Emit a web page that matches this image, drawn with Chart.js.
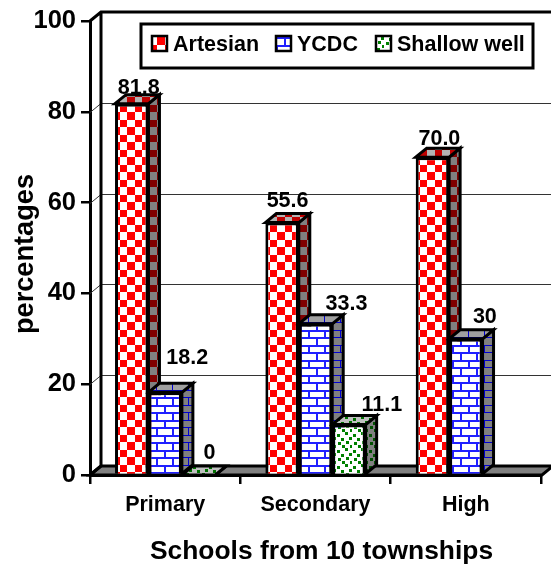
<!DOCTYPE html>
<html>
<head>
<meta charset="utf-8">
<style>
    html, body { margin: 0; padding: 0; background: #fff; }
    canvas { display: block; }
</style>
<script src="https://cdn.jsdelivr.net/npm/chart.js@4"></script>
</head>
<body>
<canvas id="chart" width="551" height="566"></canvas>
<script>
// ======================================
// DATA
// ======================================

const categories = ["Primary", "Secondary", "High"];
const artesian = [81.8, 55.6, 70.0];
const ycdc = [18.2, 33.3, 30];
const shallowWell = [0, 11.1, null];
const artesianLabels = ["81.8", "55.6", "70.0"];
const ycdcLabels = ["18.2", "33.3", "30"];
const shallowLabels = ["0", "11.1", ""];
const yTicks = [0, 20, 40, 60, 80, 100];
const xTitle = "Schools from 10 townships";
const yTitle = "percentages";

// ======================================
// STYLE
// ======================================

const FONT = '"Liberation Sans", Arial, sans-serif';
const DEPTH_X = 11;
const DEPTH_Y = 9;

// fill patterns
function tile(w, h, back, color, draw) {
    const c = document.createElement("canvas");
    c.width = w;
    c.height = h;
    const g = c.getContext("2d");
    g.fillStyle = back;
    g.fillRect(0, 0, w, h);
    g.fillStyle = color;
    draw(g);
    return g.createPattern(c, "repeat");
}

function checker(back, color) {
    return tile(15, 15, back, color, function (g) {
        g.fillRect(0, 0, 7, 7);
        g.fillRect(7, 7, 8, 8);
    });
}

function brick(back, color, lw) {
    return tile(16, 15, back, color, function (g) {
        g.fillRect(0, 0, 16, lw);
        g.fillRect(0, 7, 16, lw);
        g.fillRect(4, 0, lw, 7);
        g.fillRect(12, 7, lw, 8);
    });
}

function dots(back, color) {
    return tile(16, 16, back, color, function (g) {
        [[1, 2], [9, 0], [5, 6], [13, 5], [2, 10], [10, 9], [6, 13], [14, 13]].forEach(function (p) {
            g.fillRect(p[0], p[1], 3, 3);
        });
    });
}

const faces = [
    { front: checker("#ffffff", "#ff0000"), top: checker("#b4b4b4", "#c00000"), side: checker("#808080", "#800000") },
    { front: brick("#ffffff", "#2020ff", 2), top: brick("#a0a0a0", "#0000d0", 1), side: brick("#808080", "#0000d0", 1) },
    { front: dots("#ffffff", "#008000"), top: dots("#c0c0c0", "#007000"), side: dots("#808080", "#005000") }
];

const valueLabels = [artesianLabels, ycdcLabels, shallowLabels];

// label offset from the top middle of each bar
const labelDx = [[7, 5.5, 7], [22, 31, 19], [11, 33, 0]];
const labelDy = [[10, 16, 12], [28, 14, 16], [16, 14, 0]];

function facePath(ctx, pts) {
    ctx.beginPath();
    pts.forEach(function (p, i) {
        if (i == 0) ctx.moveTo(p[0], p[1]);
        else ctx.lineTo(p[0], p[1]);
    });
    ctx.closePath();
}

function fillFace(ctx, pts, fill) {
    facePath(ctx, pts);
    ctx.fillStyle = fill;
    ctx.fill();
    ctx.lineWidth = 3;
    ctx.strokeStyle = "#000";
    ctx.lineJoin = "miter";
    ctx.stroke();
}

// ======================================
// BACK WALL, FLOOR, BAR DEPTH
// ======================================

const depthPlugin = {
    id: "depth",
    beforeDatasetsDraw(chart) {
        const ctx = chart.ctx;
        const area = chart.chartArea;
        const y = chart.scales.y;
        const right = chart.width + 2;

        ctx.save();

        // gridlines on the back wall
        ctx.lineWidth = 1;
        ctx.strokeStyle = "#333";
        yTicks.forEach(function (t) {
            const py = Math.round(y.getPixelForValue(t)) + 0.5;
            if (t == 0 || t == 100) return;
            ctx.beginPath();
            ctx.moveTo(area.left, py);
            ctx.lineTo(area.left + DEPTH_X, py - DEPTH_Y);
            ctx.lineTo(right, py - DEPTH_Y);
            ctx.stroke();
        });

        // floor
        facePath(ctx, [
            [area.left, area.bottom],
            [area.left + DEPTH_X, area.bottom - DEPTH_Y],
            [right, area.bottom - DEPTH_Y],
            [area.right + 1, area.bottom],
        ]);
        ctx.fillStyle = "#808080";
        ctx.fill();
        ctx.lineWidth = 3;
        ctx.strokeStyle = "#000";
        ctx.stroke();

        // wall outline
        ctx.lineWidth = 3;
        ctx.beginPath();
        ctx.moveTo(area.left, area.top);
        ctx.lineTo(area.left + DEPTH_X, area.top - DEPTH_Y);
        ctx.lineTo(right, area.top - DEPTH_Y);
        ctx.moveTo(area.left + DEPTH_X, area.top - DEPTH_Y);
        ctx.lineTo(area.left + DEPTH_X, area.bottom - DEPTH_Y);
        ctx.lineTo(area.left, area.bottom);
        ctx.stroke();

        // top and side of each bar
        chart.data.datasets.forEach(function (ds, d) {
            chart.getDatasetMeta(d).data.forEach(function (bar, i) {
                if (ds.data[i] === null) return;
                const p = bar.getProps(["x", "y", "base", "width"], true);
                const l = p.x - p.width / 2;
                const r = p.x + p.width / 2;
                fillFace(ctx, [[r, p.y], [r + DEPTH_X, p.y - DEPTH_Y], [r + DEPTH_X, p.base - DEPTH_Y], [r, p.base]], faces[d].side);
                fillFace(ctx, [[l, p.y], [l + DEPTH_X, p.y - DEPTH_Y], [r + DEPTH_X, p.y - DEPTH_Y], [r, p.y]], faces[d].top);
            });
        });

        ctx.restore();
    },

    afterDatasetsDraw(chart) {
        const ctx = chart.ctx;
        ctx.save();

        // value labels
        ctx.font = "bold 21.5px " + FONT;
        ctx.fillStyle = "#000";
        ctx.textAlign = "center";
        ctx.textBaseline = "alphabetic";
        chart.data.datasets.forEach(function (ds, d) {
            chart.getDatasetMeta(d).data.forEach(function (bar, i) {
                if (ds.data[i] === null) return;
                ctx.fillText(valueLabels[d][i], bar.x + labelDx[d][i], bar.y - labelDy[d][i]);
            });
        });

        // legend box
        ctx.fillStyle = "#fff";
        ctx.fillRect(141, 24, 392, 44);
        ctx.lineWidth = 3;
        ctx.strokeStyle = "#000";
        ctx.strokeRect(141, 24, 392, 44);

        const swatchX = [152, 276, 376];
        ctx.textAlign = "left";
        ctx.textBaseline = "middle";
        chart.data.datasets.forEach(function (ds, d) {
            ctx.fillStyle = faces[d].front;
            ctx.fillRect(swatchX[d], 36, 15, 15);
            ctx.lineWidth = 2.5;
            ctx.strokeRect(swatchX[d], 36, 15, 15);
            ctx.fillStyle = "#000";
            ctx.fillText(ds.label, swatchX[d] + 21, 45);
        });

        // axis titles sit off centre from the plot, so they go here
        ctx.fillStyle = "#000";
        ctx.textAlign = "center";
        ctx.textBaseline = "alphabetic";
        ctx.font = "bold 26.4px " + FONT;
        ctx.fillText(xTitle, 321.5, 559);
        ctx.font = "bold 27.2px " + FONT;
        ctx.translate(33, 254);
        ctx.rotate(-Math.PI / 2);
        ctx.fillText(yTitle, 0, 0);

        ctx.restore();
    }
};

// ======================================
// CHART
// ======================================

new Chart(document.getElementById("chart"), {

    type: "bar",

    data: {
        labels: categories,
        datasets: [
            { label: "Artesian", data: artesian, backgroundColor: faces[0].front },
            { label: "YCDC", data: ycdc, backgroundColor: faces[1].front },
            { label: "Shallow well", data: shallowWell, backgroundColor: faces[2].front }
        ]
    },

    options: {
        responsive: false,
        animation: false,
        layout: { padding: { top: 21, right: 10, bottom: 0, left: 0 } },
        datasets: {
            bar: {
                categoryPercentage: 0.667,
                barPercentage: 1,
                borderColor: "#000",
                borderWidth: 3
            }
        },
        plugins: {
            legend: { display: false },
            tooltip: { enabled: false }
        },
        scales: {
            x: {
                afterFit(scale) { scale.height = 91; },
                grid: { drawOnChartArea: false, color: "#000", lineWidth: 2.5, tickLength: 9 },
                border: { color: "#000", width: 3 },
                ticks: { color: "#000", font: { family: FONT, size: 21.5, weight: "bold" }, padding: 8, maxRotation: 0 }
            },
            y: {
                min: 0,
                max: 100,
                afterFit(scale) { scale.width = 90; },
                afterBuildTicks(scale) {
                    scale.ticks = yTicks.map(function (v) { return { value: v }; });
                },
                grid: { drawOnChartArea: false, color: "#000", lineWidth: 2.5, tickLength: 9 },
                border: { color: "#000", width: 3 },
                ticks: { color: "#000", font: { family: FONT, size: 25.5, weight: "bold" }, padding: 5 }
            }
        }
    },

    plugins: [depthPlugin]

});
</script>
</body>
</html>
